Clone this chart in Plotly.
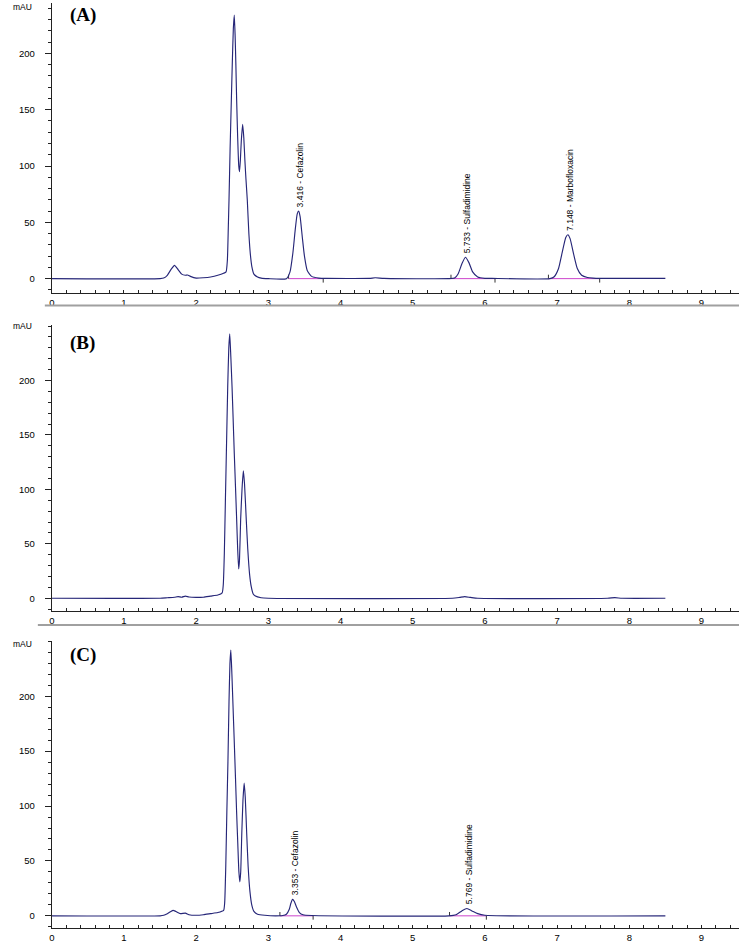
import plotly.graph_objects as go

# ---------------- data ----------------
# Panel A: standard mixture
t_A = [0, 1.5, 1.55, 1.6, 1.65, 1.7, 1.75, 1.8, 1.85, 1.88, 1.92, 2.0, 2.1, 2.2, 2.3, 2.38, 2.414,
       2.432, 2.445, 2.455, 2.47, 2.487, 2.50, 2.515, 2.528, 2.54, 2.55, 2.561, 2.575, 2.59, 2.60,
       2.612, 2.625, 2.644, 2.66, 2.675, 2.69, 2.708, 2.73, 2.75, 2.772, 2.80, 2.85, 2.9, 3.0,
       3.25, 3.30, 3.34, 3.37, 3.40, 3.42, 3.44, 3.47, 3.50, 3.54, 3.60, 3.70, 3.80,
       4.4, 4.48, 4.6, 5.5, 5.58, 5.63, 5.68, 5.73, 5.78, 5.83, 5.90, 6.0, 6.1,
       6.9, 6.96, 7.02, 7.07, 7.12, 7.15, 7.18, 7.23, 7.28, 7.34, 7.42, 7.5, 7.6, 8.5]
v_A = [0, 0, 0.5, 3, 8, 11.8, 8, 4, 3, 3.2, 2, 0.5, 0.8, 1.5, 3, 4.8, 6,
       16, 45, 70, 115, 158, 190, 222, 234, 215, 190, 158, 125, 100, 95,
       105, 122, 137, 125, 105, 88, 70, 40, 22, 10.5, 4, 1.5, 0.5, 0,
       0, 6, 23, 42, 57.5, 60, 55, 37, 20, 7, 2, 0.5, 0.2,
       0.2, 0.8, 0.2, 0, 0.5, 4.4, 13, 19, 14, 6, 1.5, 0.3, 0.2,
       0, 1.7, 9, 23, 36.5, 39, 35.5, 21.5, 9, 3, 1, 0.4, 0.2, 0.3]

# Panel B: blank sample
t_B = [0, 1.5, 1.6, 1.7, 1.75, 1.8, 1.85, 1.9, 2.0, 2.1, 2.2, 2.3, 2.36, 2.375, 2.39, 2.405,
       2.418, 2.437, 2.452, 2.465, 2.48, 2.497, 2.512, 2.528, 2.545, 2.561, 2.575, 2.589, 2.60,
       2.616, 2.635, 2.653, 2.67, 2.694, 2.715, 2.74, 2.763, 2.79, 2.82, 2.9, 3.0,
       5.55, 5.65, 5.72, 5.8, 5.9, 7.7, 7.8, 7.9, 8.5]
v_B = [0, 0, 0.5, 1, 1.5, 1, 2, 1.2, 0.8, 1, 2, 3, 5, 12, 41, 90,
       133, 194, 230, 243, 222, 194, 165, 133, 102, 72, 45, 27, 35,
       72, 100, 117, 105, 72, 45, 22, 10.7, 4, 2, 0.5, 0,
       0, 0.8, 1.5, 0.8, 0, 0, 0.6, 0, 0]

# Panel C: spiked sample
t_C = [0, 1.5, 1.55, 1.6, 1.65, 1.68, 1.72, 1.78, 1.85, 1.9, 2.0, 2.1, 2.2, 2.3, 2.38, 2.395,
       2.41, 2.425, 2.44, 2.455, 2.468, 2.48, 2.495, 2.51, 2.527, 2.545, 2.56, 2.577, 2.592,
       2.605, 2.617, 2.632, 2.648, 2.665, 2.68, 2.70, 2.72, 2.745, 2.77, 2.80, 2.85, 2.95, 3.1,
       3.2, 3.25, 3.29, 3.31, 3.335, 3.36, 3.39, 3.43, 3.48, 3.6,
       5.5, 5.6, 5.68, 5.75, 5.82, 5.9, 6.0, 8.5]
v_C = [0, 0, 0.5, 2, 4, 5, 4, 2, 2.5, 1, 0.5, 1, 2, 3, 5, 12,
       45, 95, 140, 195, 230, 242, 220, 192, 160, 125, 95, 65, 40,
       31, 40, 75, 105, 121, 108, 75, 45, 22, 10, 4, 1.5, 0.5, 0,
       0.3, 1.5, 6, 11, 15, 13, 8, 3, 1, 0.3,
       0, 1, 4.5, 6.7, 4.5, 2, 0.5, 0]

# labelled peaks: retention time, apex height, name, integration start / end
peaks_A = dict(rt=[3.416, 5.733, 7.148], h=[60, 19, 39],
               name=["Cefazolin", "Sulfadimidine", "Marbofloxacin"],
               start=[3.28, 5.53, 6.88], end=[3.76, 6.14, 7.59])
peaks_C = dict(rt=[3.353, 5.769], h=[15, 6.7],
               name=["Cefazolin", "Sulfadimidine"],
               start=[3.16, 5.51], end=[3.62, 6.02])

panel_labels = ["(A)", "(B)", "(C)"]
x_ticks = list(range(0, 10))
y_ticks = [0, 50, 100, 150, 200]

# ---------------- figure ----------------
W, H = 739, 944
LINE = "#262678"
MAG = "#cc44cc"


def py(p):  # pixel row -> paper fraction
    return 1 - p / H


panels = [
    dict(t=t_A, v=v_A, peaks=peaks_A, dom=[py(292.5), py(3)], rng=[-12.3, 244.7],
         lab_y=12, mau=4),
    dict(t=t_B, v=v_B, peaks=None, dom=[py(610.7), py(325)], rng=[-11.4, 251],
         lab_y=18, mau=1),
    dict(t=t_C, v=v_C, peaks=peaks_C, dom=[py(927.7), py(641)], rng=[-10.8, 250.3],
         lab_y=14, mau=3),
]

fig = go.Figure()
layout = dict(width=W, height=H, margin=dict(l=0, r=0, t=0, b=0),
              paper_bgcolor="white", plot_bgcolor="white", showlegend=False,
              font=dict(family="Liberation Sans, Arial, sans-serif", color="black", size=9))
annotations = []
shapes = []

for i, p in enumerate(panels):
    n = "" if i == 0 else str(i + 1)
    xa, ya = "x" + n, "y" + n
    pk = p["peaks"]
    if pk:
        for rt, h, nm, s, e in zip(pk["rt"], pk["h"], pk["name"], pk["start"], pk["end"]):
            # integration baseline and start/end markers
            fig.add_trace(go.Scatter(x=[s, e], y=[0, 0], mode="lines", xaxis=xa, yaxis=ya,
                                     line=dict(color=MAG, width=1), hoverinfo="skip"))
            fig.add_trace(go.Scatter(x=[s, s, None, e, e], y=[0, 3.5, None, 0, -3.5],
                                     mode="lines", xaxis=xa, yaxis=ya,
                                     line=dict(color="#333333", width=1), hoverinfo="skip"))
            annotations.append(dict(
                x=rt + 0.02, y=h, xref=xa, yref=ya, text=f"{rt:.3f} - {nm}",
                textangle=-90, showarrow=False, xanchor="center", yanchor="bottom", yshift=2,
                font=dict(family="Liberation Sans, Arial", size=8.5, color="black")))
    fig.add_trace(go.Scatter(x=p["t"], y=p["v"], mode="lines", xaxis=xa, yaxis=ya,
                             line=dict(color=LINE, width=1.15, shape="spline", smoothing=0.5),
                             hoverinfo="skip"))

    layout["xaxis" + n] = dict(
        domain=[49 / W, 1], range=[0, 9.52], anchor=ya, tickvals=x_ticks,
        ticks="inside", ticklen=3, tickwidth=1, tickcolor="#222",
        minor=dict(dtick=0.2, tick0=0, ticks="inside", ticklen=3, tickcolor="#222"),
        showline=True, linecolor="#222", linewidth=1, showgrid=False, zeroline=False,
        tickfont=dict(size=9.5, color="black"), ticklabelstandoff=1, fixedrange=True)
    layout["yaxis" + n] = dict(
        domain=p["dom"], range=p["rng"], anchor=xa, tickvals=y_ticks,
        ticks="outside", ticklen=6, tickwidth=1, tickcolor="#222",
        minor=dict(dtick=10, tick0=0, ticks="outside", ticklen=3, tickcolor="#222"),
        showline=True, linecolor="#222", linewidth=1, showgrid=False, zeroline=False,
        tickfont=dict(size=9.5, color="black"), ticklabelstandoff=8, fixedrange=True)

    annotations.append(dict(x=8 / W, y=1, xref="paper", yref=ya + " domain", text="mAU",
                            showarrow=False, xanchor="left", yanchor="middle",
                            yshift=-p["mau"], font=dict(size=8.5, color="black")))
    annotations.append(dict(x=80 / W, y=1, xref="paper", yref=ya + " domain",
                            text="<b>" + panel_labels[i] + "</b>", showarrow=False,
                            xanchor="center", yanchor="middle", yshift=-p["lab_y"],
                            font=dict(family="Liberation Serif, Times New Roman, serif",
                                      size=19, color="black")))

# grey separator lines under the x tick labels
for yy, x0 in [(305.5, 42), (625, 35)]:
    shapes.append(dict(type="line", xref="paper", yref="paper", x0=x0 / W, x1=1,
                       y0=py(yy), y1=py(yy), line=dict(color="#a0a0a0", width=2)))

layout["annotations"] = annotations
layout["shapes"] = shapes
fig.update_layout(**layout)
fig.write_html("out.html")
